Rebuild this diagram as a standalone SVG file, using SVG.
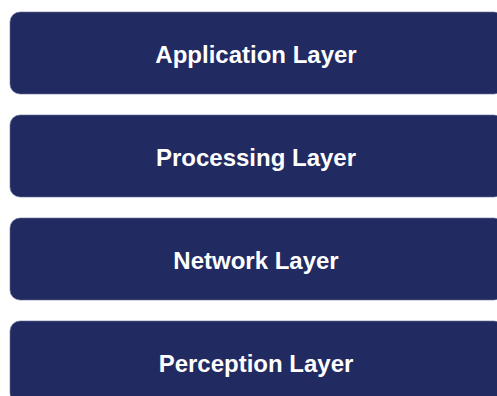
<svg xmlns="http://www.w3.org/2000/svg" width="497" height="396" viewBox="0 0 497 396">
<style>
.box{fill:#212a61;stroke:#6a7097;stroke-width:0.6}
.lbl{font-family:"Liberation Sans",Arial,sans-serif;font-weight:bold;font-size:24px;fill:#ffffff;text-anchor:middle}
</style>
<rect width="497" height="396" fill="#ffffff"/>
<g id="application">
<rect class="box" x="10" y="12" width="494" height="82" rx="10"/>
<text class="lbl" x="256" y="63">Application Layer</text>
</g>
<g id="processing">
<rect class="box" x="10" y="115" width="494" height="82" rx="10"/>
<text class="lbl" x="256" y="166">Processing Layer</text>
</g>
<g id="network">
<rect class="box" x="10" y="218" width="494" height="82" rx="10"/>
<text class="lbl" x="256" y="269">Network Layer</text>
</g>
<g id="perception">
<rect class="box" x="10" y="321" width="494" height="82" rx="10"/>
<text class="lbl" x="256" y="372">Perception Layer</text>
</g>
<g id="connectors"></g>
</svg>
